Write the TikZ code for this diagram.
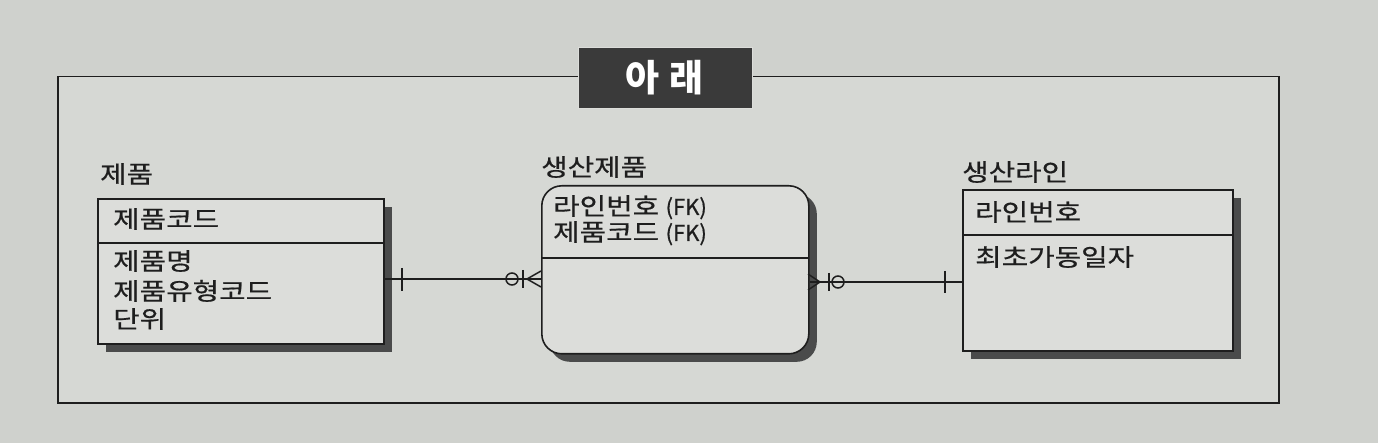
\documentclass[tikz,border=0pt]{standalone}
\usepackage{fontspec}
\newfontfamily\kr[FakeStretch=1.2,FakeBold=0.6]{Noto Sans CJK KR}
\newfontfamily\krn[FakeBold=0.6]{Noto Sans CJK KR}
\newfontfamily\krt{Noto Sans CJK KR}
\usetikzlibrary{shadows}
\definecolor{bg}{HTML}{CFD1CD}
\definecolor{framebg}{HTML}{D6D8D4}
\definecolor{boxbg}{HTML}{DCDDDA}
\definecolor{shadowc}{HTML}{4A4B4B}
\definecolor{titlebg}{HTML}{3A3A3A}
\definecolor{ink}{HTML}{1E1E1E}
\tikzset{
  ln/.style={draw=ink, line width=1.6pt},
  ent/.style={ln, fill=boxbg, inner sep=0pt, anchor=north west,
    drop shadow={shadow xshift=8pt, shadow yshift=-8pt, fill=shadowc, opacity=1}},
  txt/.style={anchor=base west, inner sep=0pt, text=ink, font=\kr\fontsize{24}{28}\selectfont},
  frame/.style={draw=ink, line width=1.5pt, fill=framebg, anchor=north west, inner sep=0pt},
  titlebox/.style={fill=titlebg, draw=boxbg, line width=1pt, minimum width=174pt, minimum height=61pt,
    inner sep=0pt, text=white, font=\krt\bfseries\fontsize{37}{40}\selectfont},
  rel/.style={draw=ink, line width=1.5pt},
}
\begin{document}
\begin{tikzpicture}[x=1pt,y=-1pt]
\useasboundingbox (0,0) rectangle (1378,443);
\fill[bg] (0,0) rectangle (1378,443);
% outer frame
\node[frame, minimum width=1221pt, minimum height=326pt] (frame) at (57,76) {};
\node[titlebox] (title) at (665,78) {아\hspace{10pt}래};
% entities
\node[ent, minimum width=286pt, minimum height=145pt] (prod) at (97,198) {};
\draw[ln] (97,243) -- (383,243);
\node[ent, rounded corners=20pt, minimum width=267pt, minimum height=168pt] (pp) at (541,185) {};
\draw[ln] (541,258) -- (808,258);
\node[ent, minimum width=270pt, minimum height=161pt] (line) at (962,189) {};
\draw[ln] (962,235) -- (1232,235);
% labels
\node[txt] (lprod) at (100,183) {제품};
\node[txt] (lpp) at (541,176) {생산제품};
\node[txt] (lline) at (962,181) {생산라인};
% attributes
\node[txt] (a1) at (113,228) {제품코드};
\node[txt] (a2) at (113,270) {제품명};
\node[txt] (a3) at (113,300) {제품유형코드};
\node[txt] (a4) at (113,328) {단위};
\node[txt] (b1) at (553,215) {라인번호 {\krn\fontsize{22}{28}\selectfont(FK)}};
\node[txt] (b2) at (553,241) {제품코드 {\krn\fontsize{22}{28}\selectfont(FK)}};
\node[txt] (c1) at (975,221) {라인번호};
\node[txt] (c2) at (975,266) {최초가동일자};
% connector 1
\coordinate (y1) at (0,279);
\coordinate (y2) at (0,282);
\draw[rel] (prod.east |- y1) -- (pp.west |- y1);
\draw[rel] (402,268) -- (402,291);
\draw[rel] (512,279) circle (6pt);
\draw[rel] (523,270) -- (523,288);
\draw[rel] (527,279) -- (541,271) (527,279) -- (541,287);
% connector 2
\draw[rel] (pp.east |- y2) -- (line.west |- y2);
\draw[rel] (820,282) -- (808,274) (820,282) -- (808,290);
\draw[rel] (829,273) -- (829,291);
\draw[rel] (838,282) circle (6pt);
\draw[rel] (945,271) -- (945,293);
\end{tikzpicture}
\end{document}
